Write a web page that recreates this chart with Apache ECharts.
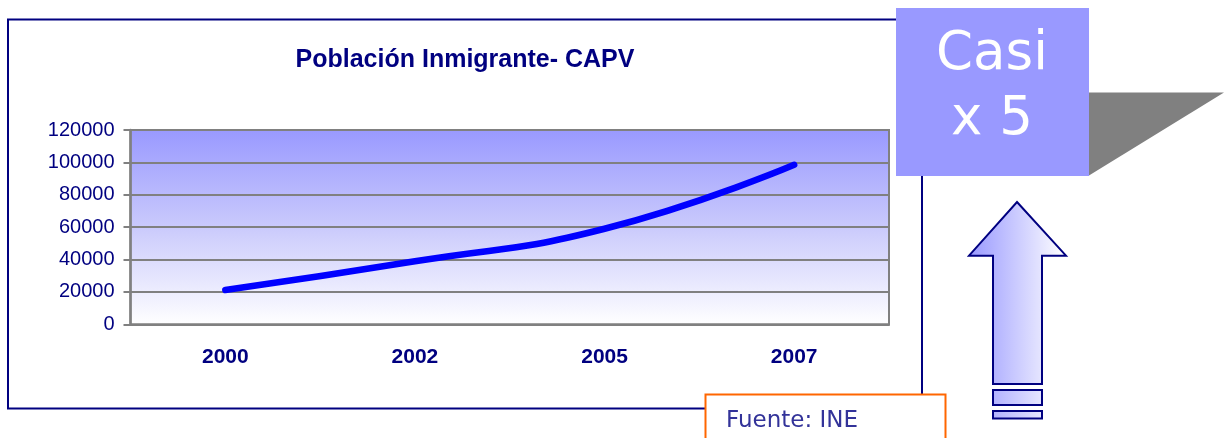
<!DOCTYPE html>
<html lang="es">
<head>
    <meta charset="UTF-8">
    <title>Población Inmigrante- CAPV</title>
    <script src="https://cdn.jsdelivr.net/npm/echarts@6/dist/echarts.min.js"></script>
    <style>
        html, body { margin: 0; padding: 0; background: #fff; }
        #main { width: 1224px; height: 438px; }
    </style>
</head>
<body>
<div id="main"></div>
<script>
    // datos
    var years = ['2000', '2002', '2005', '2007'];
    var inmigrantes = [21140, 38900, 59000, 98500];
    var yTicks = [0, 20000, 40000, 60000, 80000, 100000, 120000];

    var navy = '#000080';
    var grey = '#808080';

    var chart = echarts.init(document.getElementById('main'));

    // degradado horizontal de la flecha
    var arrowFill = new echarts.graphic.LinearGradient(969, 0, 1066, 0, [
        { offset: 0, color: '#9999ff' },
        { offset: 1, color: '#ffffff' }
    ], true);

    chart.setOption({
        animation: false,
        title: {
            text: 'Población Inmigrante- CAPV',
            left: 465,
            top: 48,
            textAlign: 'center',
            padding: 0,
            textStyle: { color: navy, fontSize: 25, fontWeight: 'bold', fontFamily: 'Liberation Sans' }
        },
        grid: {
            left: 130.5, top: 130, right: 335, bottom: 113.7,
            show: true,
            borderColor: grey,
            borderWidth: 2,
            backgroundColor: new echarts.graphic.LinearGradient(0, 0, 0, 1, [
                { offset: 0, color: '#9999ff' },
                { offset: 0.5, color: '#cacafc' },
                { offset: 1, color: '#ffffff' }
            ])
        },
        xAxis: {
            type: 'category',
            data: years,
            boundaryGap: true,
            axisLine: { lineStyle: { color: grey, width: 2 } },
            axisTick: { length: 7, lineStyle: { color: grey, width: 2 } },
            axisLabel: { margin: 22, color: navy, fontSize: 21, fontWeight: 'bold', fontFamily: 'Liberation Sans' }
        },
        yAxis: {
            type: 'value',
            min: yTicks[0],
            max: yTicks[yTicks.length - 1],
            interval: yTicks[1] - yTicks[0],
            axisLine: { show: true, lineStyle: { color: grey, width: 2.5 } },
            axisTick: { show: true, length: 7, lineStyle: { color: grey, width: 2 } },
            splitLine: { lineStyle: { color: grey, width: 2 } },
            axisLabel: {
                margin: 16, color: navy, fontSize: 20, fontFamily: 'Liberation Sans',
                formatter: function (v) { return String(v); }
            }
        },
        series: [{
            type: 'line',
            data: inmigrantes,
            smooth: 0.5,
            symbol: 'none',
            lineStyle: { color: '#0000ff', width: 6.5, cap: 'round' }
        }],
        graphic: [
            // marco del gráfico
            {
                type: 'rect', z: 1,
                shape: { x: 8, y: 19.5, width: 914, height: 389 },
                style: { fill: 'none', stroke: navy, lineWidth: 2 }
            },
            // sombra gris
            {
                type: 'polygon', z: 10,
                shape: { points: [[1089, 92.5], [1224, 92.5], [1089, 175.5]] },
                style: { fill: grey }
            },
            // caja "Casi x 5"
            {
                type: 'rect', z: 11,
                shape: { x: 896, y: 8, width: 193, height: 168 },
                style: { fill: '#9999ff' }
            },
            {
                type: 'text', z: 12,
                style: {
                    text: 'Casi\nx 5', x: 992, y: 88, align: 'center', verticalAlign: 'middle',
                    fill: '#ffffff', font: '53px "DejaVu Sans"', lineHeight: 65
                }
            },
            // fuente
            {
                type: 'rect', z: 11,
                shape: { x: 705.5, y: 394.5, width: 240, height: 60 },
                style: { fill: '#ffffff', stroke: '#ff6600', lineWidth: 2 }
            },
            {
                type: 'text', z: 12,
                style: {
                    text: 'Fuente: INE', x: 726, y: 421, verticalAlign: 'middle',
                    fill: '#333399', font: '23px "DejaVu Sans"'
                }
            },
            // flecha
            {
                type: 'polygon', z: 11,
                shape: { points: [[1017, 202], [1066, 255.7], [1042, 255.7], [1042, 384], [993, 384], [993, 255.7], [969, 255.7]] },
                style: { fill: arrowFill, stroke: navy, lineWidth: 2 }
            },
            {
                type: 'rect', z: 11,
                shape: { x: 993, y: 390, width: 49, height: 15 },
                style: { fill: arrowFill, stroke: navy, lineWidth: 2 }
            },
            {
                type: 'rect', z: 11,
                shape: { x: 993, y: 411, width: 49, height: 7.5 },
                style: { fill: arrowFill, stroke: navy, lineWidth: 2 }
            }
        ]
    });
</script>
</body>
</html>
